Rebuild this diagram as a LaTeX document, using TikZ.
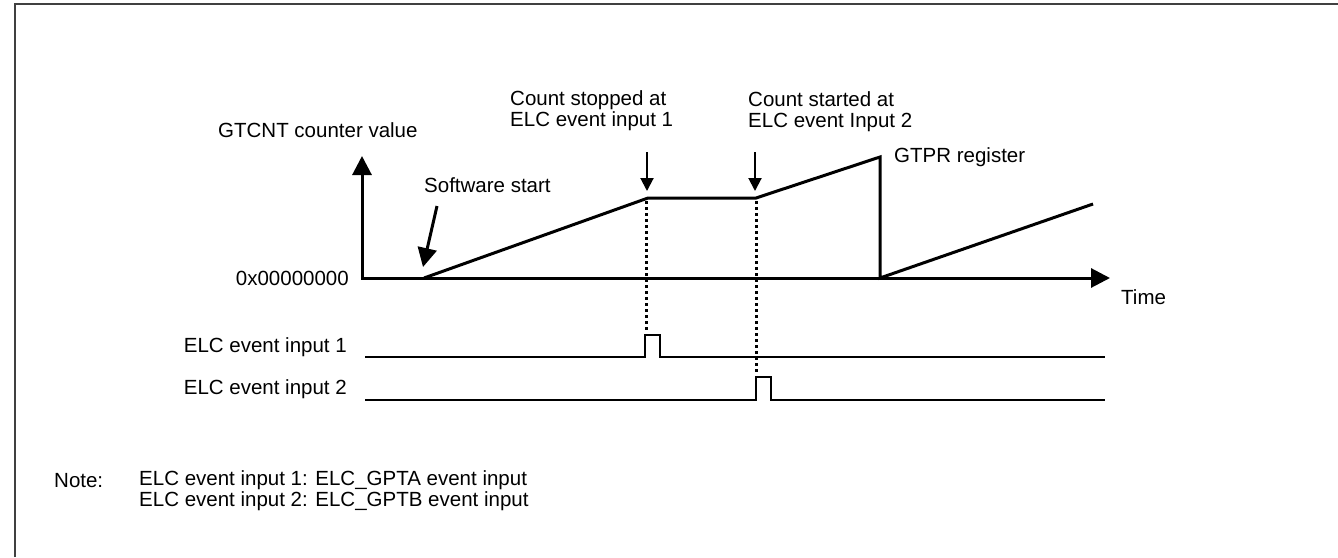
\documentclass[tikz,border=0pt]{standalone}
\usepackage{fontspec}
\setmainfont{Liberation Sans}
\usetikzlibrary{arrows.meta}
\definecolor{framegray}{HTML}{404040}
\begin{document}
\begin{tikzpicture}[x=1pt,y=-1pt,
  lbl/.style={font=\fontsize{20.5}{21}\selectfont, inner sep=0pt, align=left},
  wave/.style={line width=3pt, line join=miter},
  sig/.style={line width=2pt, line join=miter},
  dotline/.style={line width=3pt, dash pattern=on 3pt off 3pt},
  bigtip/.style={-{Triangle[length=19pt,width=19pt]}},
  smalltip/.style={-{Triangle[length=13pt,width=13pt]}}
]
\useasboundingbox (0,0) rectangle (1338,557);
% frame
\draw[line width=2pt, framegray] (15,557) -- (15,4) -- (1338,4);

% coordinates
\coordinate (ytip) at (362,156);
\coordinate (org) at (362,278);
\coordinate (xtip) at (1110,278);
\coordinate (sw) at (424,278);
\coordinate (stop) at (648,198);
\coordinate (restart) at (756,198);
\coordinate (peak) at (880,157);
\coordinate (reset) at (880,278);
\coordinate (rampend) at (1093,204);

% axes
\draw[wave,{Triangle[length=19pt,width=19pt]}-{Triangle[length=19pt,width=19pt]}] (ytip) -- (org) -- (xtip);
% counter waveform
\draw[wave] (sw) -- (stop) -- (restart) -- (peak) -- (reset) -- (rampend);

% labels
\node[lbl, anchor=west] (gtcnt) at (218,130) {GTCNT counter value};
\node[lbl, anchor=east] (zero) at (349,278) {0x00000000};
\node[lbl, anchor=west] (swlbl) at (424,185) {Software start};
\node[lbl, anchor=west] (stoplbl) at (510,111) {Count stopped at\\ELC event input 1};
\node[lbl, anchor=west] (startlbl) at (748,112) {Count started at\\ELC event Input 2};
\node[lbl, anchor=west] (gtpr) at (894,157) {GTPR register};
\node[lbl, anchor=west] (time) at (1121,297) {Time};

% arrows
\coordinate (swa) at (437,206);
\coordinate (swb) at (423,267);
\draw[line width=3pt, bigtip] (swa) -- (swb);
\coordinate (a1) at (647,152);
\coordinate (a1e) at (647,191);
\coordinate (a2) at (755,152);
\coordinate (a2e) at (755,191);
\draw[line width=2pt, smalltip] (a1) -- (a1e);
\draw[line width=2pt, smalltip] (a2) -- (a2e);

% ELC signals
\node[lbl, anchor=east] (e1lbl) at (347,347) {ELC event input 1};
\node[lbl, anchor=east] (e2lbl) at (347,389) {ELC event input 2};
\coordinate (e1s) at (365,357);
\coordinate (p1a) at (645,357);
\coordinate (p1b) at (645,335);
\coordinate (p1c) at (660,335);
\coordinate (p1d) at (660,357);
\coordinate (e1e) at (1105,357);
\draw[sig] (e1s) -- (p1a) -- (p1b) -- (p1c) -- (p1d) -- (e1e);
\coordinate (e2s) at (365,400);
\coordinate (p2a) at (756,400);
\coordinate (p2b) at (756,377);
\coordinate (p2c) at (771,377);
\coordinate (p2d) at (771,400);
\coordinate (e2e) at (1105,400);
\draw[sig] (e2s) -- (p2a) -- (p2b) -- (p2c) -- (p2d) -- (e2e);

% dotted guides
\coordinate (d1) at (646,201);
\coordinate (d1e) at (646,332);
\coordinate (d2) at (756,201);
\coordinate (d2e) at (756,374);
\draw[dotline] (d1) -- (d1e);
\draw[dotline] (d2) -- (d2e);

% note
\node[lbl, anchor=west] (note) at (54,481) {Note:};
\node[lbl, anchor=west] (notetxt) at (139,491) {ELC event input 1: ELC\_GPTA event input\\ELC event input 2: ELC\_GPTB event input};
\end{tikzpicture}
\end{document}
